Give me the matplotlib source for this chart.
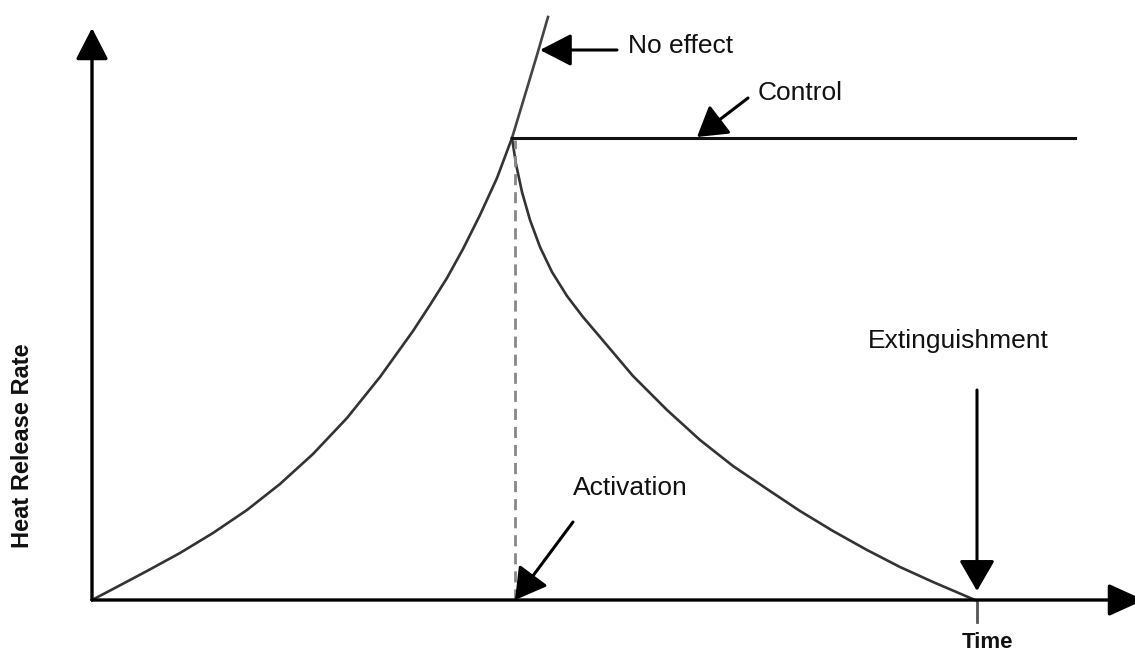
import matplotlib
matplotlib.use("Agg")
import matplotlib.pyplot as plt

# Fire growth up to sprinkler activation (time, heat release rate)
growth_t = [0, 21, 55, 88, 121, 155, 188, 221, 255, 288, 321, 338, 355, 371, 388, 405, 420]
growth_hrr = [0, 11, 29, 47, 67, 90, 116, 146, 182, 223, 269, 295, 322, 351, 385, 422, 462]

# Uncontrolled continuation
no_effect_t = [420, 433, 445, 456]
no_effect_hrr = [462, 505, 545, 583]

# Suppression: decay after activation
decay_t = [420, 424, 430, 438, 448, 460, 475, 491, 508, 541, 575, 608, 641, 675, 708,
           741, 775, 808, 841, 883]
decay_hrr = [462, 436, 408, 380, 353, 328, 304, 283, 263, 224, 190, 160, 134, 111, 89,
             69, 50, 33, 18, 0]

# Control: constant after activation
control_t = [420, 983]
control_hrr = [462, 462]

activation_t = 423
extinguish_t = 885

INK = "#222222"
LABEL_FONT = ["Liberation Sans", "DejaVu Sans"]

fig = plt.figure(figsize=(11.35, 6.5), dpi=100)
ax = fig.add_axes([0, 0, 1, 1])
ax.set_xlim(-92, 1043)
ax.set_ylim(-50, 600)
ax.axis("off")


def arrow(x0, y0, x1, y1, hl=0.97, hw=0.5, lw=2.2, color=INK):
    ax.annotate("", xy=(x1, y1), xytext=(x0, y0), annotation_clip=False,
                arrowprops=dict(arrowstyle=f"-|>,head_length={hl},head_width={hw}",
                                mutation_scale=20, lw=lw, color=color,
                                fc="black", ec="black", shrinkA=0, shrinkB=0))


# axes
arrow(0, 0, 0, 572, lw=2.4)
arrow(0, 0, 1052, 0, hl=1.1, lw=2.4)

# curves
ax.plot(growth_t, growth_hrr, color="#333333", lw=1.9)
ax.plot(no_effect_t, no_effect_hrr, color="#444444", lw=1.9)
ax.plot(decay_t, decay_hrr, color="#333333", lw=1.9)
ax.plot(control_t, control_hrr, color="#111111", lw=2.2)
ax.plot([activation_t, activation_t], [0, 460], color="#888888", lw=2.0,
        dashes=(4, 2.5))

# extinguishment tick below the time axis
ax.plot([extinguish_t, extinguish_t], [0, -22], color="#555555", lw=2.0)

# callout arrows
arrow(525, 550, 448, 550)
arrow(656, 502, 605, 463, hl=0.9, hw=0.55)
arrow(481, 78, activation_t, 0, hl=0.95, hw=0.55)
arrow(extinguish_t, 210, extinguish_t, 9, hl=0.95, hw=0.55)

# labels
fs = 19
ax.text(536, 547, "No effect", fontsize=fs, family=LABEL_FONT, va="baseline", color="#111111")
ax.text(666, 500, "Control", fontsize=fs, family=LABEL_FONT, va="baseline", color="#111111")
ax.text(481, 105, "Activation", fontsize=fs, family=LABEL_FONT, va="baseline", color="#111111")
ax.text(776, 252, "Extinguishment", fontsize=fs, family=LABEL_FONT, va="baseline", color="#111111")
ax.text(870, -32, "Time", fontsize=16, family=LABEL_FONT, weight="bold", va="top", color="#111111")
ax.text(-69, 154, "Heat Release Rate", fontsize=17, family=LABEL_FONT, weight="bold",
        rotation=90, ha="center", va="center", color="#111111")

fig.savefig("out.png", dpi=100, facecolor="white")
